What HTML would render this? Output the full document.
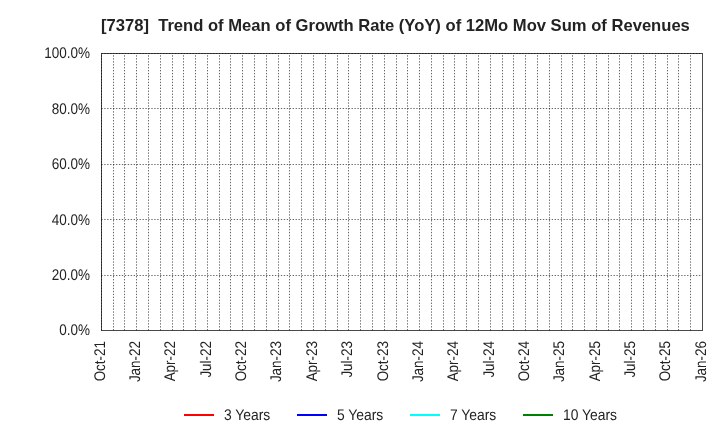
<!DOCTYPE html>
<html><head><meta charset="utf-8"><style>
html,body{margin:0;padding:0;background:#fff;}
svg{display:block;}
text{font-family:"Liberation Sans",Arial,sans-serif;fill:#232323;}
.g{text-rendering:geometricPrecision;}
</style></head><body>
<svg width="720" height="440" viewBox="0 0 720 440">
<rect x="0" y="0" width="720" height="440" fill="#fff"/>
<text x="101" y="31" font-size="16.6" font-weight="bold" xml:space="preserve">[7378]  Trend of Mean of Growth Rate (YoY) of 12Mo Mov Sum of Revenues</text>
<rect x="101.5" y="53.5" width="601" height="277" fill="none" stroke="#4a4a4a" stroke-width="1" shape-rendering="crispEdges"/>
<g stroke="#000" stroke-opacity="0.6" stroke-width="1" stroke-dasharray="1.35 1.594" fill="none">
<line x1="101.5" y1="330.42" x2="101.5" y2="54"/><line x1="113.5" y1="330.42" x2="113.5" y2="54"/><line x1="124.5" y1="330.42" x2="124.5" y2="54"/><line x1="136.5" y1="330.42" x2="136.5" y2="54"/><line x1="148.5" y1="330.42" x2="148.5" y2="54"/><line x1="160.5" y1="330.42" x2="160.5" y2="54"/><line x1="172.5" y1="330.42" x2="172.5" y2="54"/><line x1="183.5" y1="330.42" x2="183.5" y2="54"/><line x1="195.5" y1="330.42" x2="195.5" y2="54"/><line x1="207.5" y1="330.42" x2="207.5" y2="54"/><line x1="219.5" y1="330.42" x2="219.5" y2="54"/><line x1="230.5" y1="330.42" x2="230.5" y2="54"/><line x1="242.5" y1="330.42" x2="242.5" y2="54"/><line x1="254.5" y1="330.42" x2="254.5" y2="54"/><line x1="266.5" y1="330.42" x2="266.5" y2="54"/><line x1="278.5" y1="330.42" x2="278.5" y2="54"/><line x1="289.5" y1="330.42" x2="289.5" y2="54"/><line x1="301.5" y1="330.42" x2="301.5" y2="54"/><line x1="313.5" y1="330.42" x2="313.5" y2="54"/><line x1="325.5" y1="330.42" x2="325.5" y2="54"/><line x1="337.5" y1="330.42" x2="337.5" y2="54"/><line x1="348.5" y1="330.42" x2="348.5" y2="54"/><line x1="360.5" y1="330.42" x2="360.5" y2="54"/><line x1="372.5" y1="330.42" x2="372.5" y2="54"/><line x1="384.5" y1="330.42" x2="384.5" y2="54"/><line x1="396.5" y1="330.42" x2="396.5" y2="54"/><line x1="407.5" y1="330.42" x2="407.5" y2="54"/><line x1="419.5" y1="330.42" x2="419.5" y2="54"/><line x1="431.5" y1="330.42" x2="431.5" y2="54"/><line x1="443.5" y1="330.42" x2="443.5" y2="54"/><line x1="454.5" y1="330.42" x2="454.5" y2="54"/><line x1="466.5" y1="330.42" x2="466.5" y2="54"/><line x1="478.5" y1="330.42" x2="478.5" y2="54"/><line x1="490.5" y1="330.42" x2="490.5" y2="54"/><line x1="502.5" y1="330.42" x2="502.5" y2="54"/><line x1="513.5" y1="330.42" x2="513.5" y2="54"/><line x1="525.5" y1="330.42" x2="525.5" y2="54"/><line x1="537.5" y1="330.42" x2="537.5" y2="54"/><line x1="549.5" y1="330.42" x2="549.5" y2="54"/><line x1="561.5" y1="330.42" x2="561.5" y2="54"/><line x1="572.5" y1="330.42" x2="572.5" y2="54"/><line x1="584.5" y1="330.42" x2="584.5" y2="54"/><line x1="596.5" y1="330.42" x2="596.5" y2="54"/><line x1="608.5" y1="330.42" x2="608.5" y2="54"/><line x1="619.5" y1="330.42" x2="619.5" y2="54"/><line x1="631.5" y1="330.42" x2="631.5" y2="54"/><line x1="643.5" y1="330.42" x2="643.5" y2="54"/><line x1="655.5" y1="330.42" x2="655.5" y2="54"/><line x1="667.5" y1="330.42" x2="667.5" y2="54"/><line x1="678.5" y1="330.42" x2="678.5" y2="54"/><line x1="690.5" y1="330.42" x2="690.5" y2="54"/><line x1="101.275" y1="275.5" x2="702" y2="275.5"/><line x1="101.275" y1="219.5" x2="702" y2="219.5"/><line x1="101.275" y1="164.5" x2="702" y2="164.5"/><line x1="101.275" y1="108.5" x2="702" y2="108.5"/><line x1="101.275" y1="53.5" x2="702" y2="53.5"/></g>
<text transform="translate(90,335.4) scale(0.965,1.1)" class="g" font-size="14" text-anchor="end">0.0%</text><text transform="translate(90,280.0) scale(0.965,1.1)" class="g" font-size="14" text-anchor="end">20.0%</text><text transform="translate(90,224.6) scale(0.965,1.1)" class="g" font-size="14" text-anchor="end">40.0%</text><text transform="translate(90,169.2) scale(0.965,1.1)" class="g" font-size="14" text-anchor="end">60.0%</text><text transform="translate(90,113.8) scale(0.965,1.1)" class="g" font-size="14" text-anchor="end">80.0%</text><text transform="translate(90,58.4) scale(0.965,1.1)" class="g" font-size="14" text-anchor="end">100.0%</text>
<text transform="translate(104.68,341) rotate(-90) scale(0.96,1.1)" class="g" font-size="14" text-anchor="end">Oct-21</text><text transform="translate(140.04,341) rotate(-90) scale(0.96,1.1)" class="g" font-size="14" text-anchor="end">Jan-22</text><text transform="translate(175.40,341) rotate(-90) scale(0.96,1.1)" class="g" font-size="14" text-anchor="end">Apr-22</text><text transform="translate(210.76,341) rotate(-90) scale(0.96,1.1)" class="g" font-size="14" text-anchor="end">Jul-22</text><text transform="translate(246.13,341) rotate(-90) scale(0.96,1.1)" class="g" font-size="14" text-anchor="end">Oct-22</text><text transform="translate(281.49,341) rotate(-90) scale(0.96,1.1)" class="g" font-size="14" text-anchor="end">Jan-23</text><text transform="translate(316.85,341) rotate(-90) scale(0.96,1.1)" class="g" font-size="14" text-anchor="end">Apr-23</text><text transform="translate(352.21,341) rotate(-90) scale(0.96,1.1)" class="g" font-size="14" text-anchor="end">Jul-23</text><text transform="translate(387.57,341) rotate(-90) scale(0.96,1.1)" class="g" font-size="14" text-anchor="end">Oct-23</text><text transform="translate(422.94,341) rotate(-90) scale(0.96,1.1)" class="g" font-size="14" text-anchor="end">Jan-24</text><text transform="translate(458.30,341) rotate(-90) scale(0.96,1.1)" class="g" font-size="14" text-anchor="end">Apr-24</text><text transform="translate(493.66,341) rotate(-90) scale(0.96,1.1)" class="g" font-size="14" text-anchor="end">Jul-24</text><text transform="translate(529.02,341) rotate(-90) scale(0.96,1.1)" class="g" font-size="14" text-anchor="end">Oct-24</text><text transform="translate(564.39,341) rotate(-90) scale(0.96,1.1)" class="g" font-size="14" text-anchor="end">Jan-25</text><text transform="translate(599.75,341) rotate(-90) scale(0.96,1.1)" class="g" font-size="14" text-anchor="end">Apr-25</text><text transform="translate(635.11,341) rotate(-90) scale(0.96,1.1)" class="g" font-size="14" text-anchor="end">Jul-25</text><text transform="translate(670.47,341) rotate(-90) scale(0.96,1.1)" class="g" font-size="14" text-anchor="end">Oct-25</text><text transform="translate(705.83,341) rotate(-90) scale(0.96,1.1)" class="g" font-size="14" text-anchor="end">Jan-26</text>
<line x1="184" y1="415" x2="214" y2="415" stroke="#ff0000" stroke-width="2"/><text transform="translate(224,419.8) scale(0.99,1.1)" class="g" font-size="14">3 Years</text><line x1="297" y1="415" x2="327" y2="415" stroke="#0000ff" stroke-width="2"/><text transform="translate(337,419.8) scale(0.99,1.1)" class="g" font-size="14">5 Years</text><line x1="410" y1="415" x2="440" y2="415" stroke="#00ffff" stroke-width="2"/><text transform="translate(450,419.8) scale(0.99,1.1)" class="g" font-size="14">7 Years</text><line x1="523" y1="415" x2="553" y2="415" stroke="#008000" stroke-width="2"/><text transform="translate(563,419.8) scale(0.99,1.1)" class="g" font-size="14">10 Years</text>
</svg>
</body></html>
